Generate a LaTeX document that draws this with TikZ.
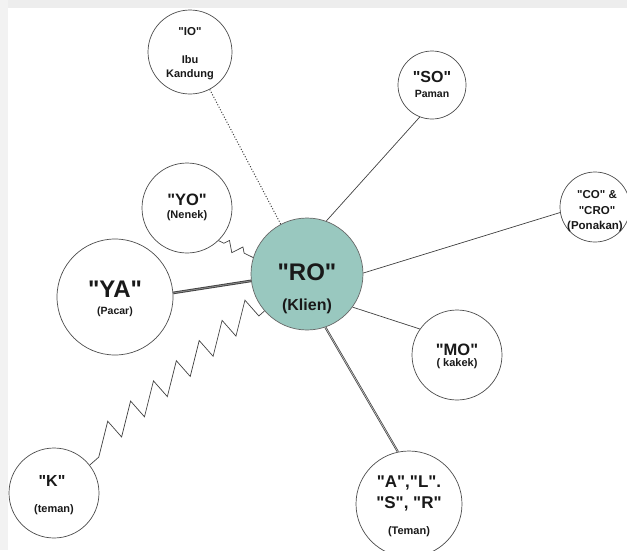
\documentclass[tikz,border=0pt]{standalone}
\usepackage{fontspec}
\setmainfont{Liberation Sans}[Ligatures=TeXOff]
\usetikzlibrary{decorations.pathmorphing}
\definecolor{klien}{RGB}{153,200,191}
\begin{document}
\begin{tikzpicture}[x=1pt, y=-1pt,
  person/.style={draw=black!70, circle, line width=0.7pt, fill=white,
                 inner sep=0pt, minimum size=#1},
  txt/.style={font=\fontsize{#1}{#1}\selectfont\bfseries, anchor=base,
              inner sep=0pt, text=black!90},
  tie/.style={draw=black!75, line width=0.7pt}
]
  \useasboundingbox (0,0) rectangle (627,550);
  \fill[black!7] (0,0) rectangle (627,8);
  \fill[black!5] (0,0) rectangle (8,550);
  \node[person=84]  (io)   at (190,52)  {};
  \node[person=68]  (so)   at (432,85)  {};
  \node[person=90]  (yo)   at (187,208) {};
  \node[person=116] (ya)   at (115,297) {};
  \node[person=112, fill=klien, draw=black!60] (ro) at (307,274) {};
  \node[person=90]  (k)    at (54,493)  {};
  \node[person=70]  (co)   at (595,207) {};
  \node[person=90]  (mo)   at (457,355) {};
  \node[person=106] (alsr) at (409,504) {};
  \draw[tie, line width=1pt, dash pattern=on 1pt off 1.8pt] (io) -- (ro);
  \draw[tie] (ro.70) -- (so.249);
  \draw[tie] (ro.1) -- (co.189);
  \draw[tie] (ro.-36) -- (mo.145);
  \draw[tie, double=black!45, double distance=0.8pt, line width=0.9pt] (ya.4) -- (ro.187);
  \draw[tie, double=gray!40, double distance=0.6pt] (ro.-71) -- (alsr.102);
  \draw[tie, decorate, decoration={saw, segment length=30.5pt, amplitude=21pt,
        pre length=12pt, post length=6pt}] (k.38) -- (ro.221);
  \draw[tie, decorate, decoration={zigzag, segment length=15pt, amplitude=5pt,
        pre length=6pt, post length=3pt}] (yo.-46) -- (ro.163);
  \node[txt=11.5] (io-a) at (190,35) {"IO"};
  \node[txt=11]   (io-b) at (190,63) {Ibu};
  \node[txt=11]   (io-c) at (190,77) {Kandung};
  \node[txt=16]   (so-a) at (432,82) {"SO"};
  \node[txt=10.5] (so-b) at (432,97) {Paman};
  \node[txt=16.5] (yo-a) at (187,205) {"YO"};
  \node[txt=11]   (yo-b) at (187,218) {(Nenek)};
  \node[txt=24]   (ya-a) at (115,297) {"YA"};
  \node[txt=10.5] (ya-b) at (115,314) {(Pacar)};
  \node[txt=24]   (ro-a) at (307,280) {"RO"};
  \node[txt=16]   (ro-b) at (307,310) {(Klien)};
  \node[txt=16]   (k-a)  at (52,486)  {"K"};
  \node[txt=11]   (k-b)  at (54,512)  {(teman)};
  \node[txt=11.5] (co-a) at (597,198) {"CO" \&};
  \node[txt=11.5] (co-b) at (597,214) {"CRO"};
  \node[txt=11.5] (co-c) at (595,229) {(Ponakan)};
  \node[txt=16.5] (mo-a) at (457,355) {"MO"};
  \node[txt=11]   (mo-b) at (457,366) {( kakek)};
  \node[txt=17]   (alsr-a) at (409,487) {"A","L".};
  \node[txt=17]   (alsr-b) at (409,508) {"S", "R"};
  \node[txt=11]   (alsr-c) at (409,534) {(Teman)};
\end{tikzpicture}
\end{document}
